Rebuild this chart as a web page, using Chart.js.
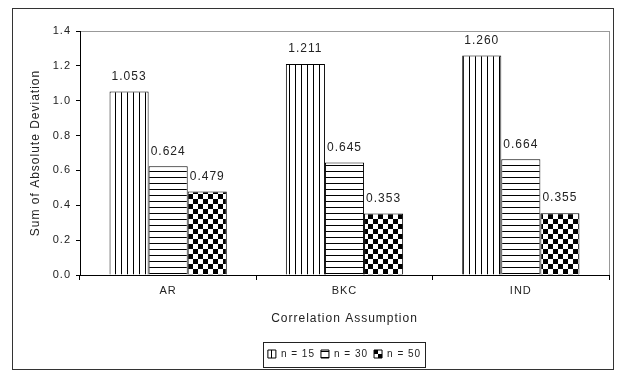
<!DOCTYPE html>
<html>
    <head>
        <meta charset="UTF-8" />
        <title>Sum of Absolute Deviation</title>
        <style type="text/css">
            body { margin: 0; background: #fff; }
            .chartBox {
                position: absolute;
                left: 12px;
                top: 8px;
                width: 600px;
                height: 360px;
                border: 1px solid #333;
            }
        </style>
    </head>
    <body>
        <div class="chartBox">
            <canvas id="myChart" width="600" height="360"></canvas>
        </div>

        <script src="https://cdn.jsdelivr.net/npm/chart.js"></script>
        <script>
            // data
            const categories = ['AR', 'BKC', 'IND'];
            const seriesLabels = ['n = 15', 'n = 30', 'n = 50'];
            const n15 = [1.053, 1.211, 1.260];
            const n30 = [0.624, 0.645, 0.664];
            const n50 = [0.479, 0.353, 0.355];

            Chart.defaults.font.family = "'Liberation Sans', Arial, sans-serif";
            Chart.defaults.font.size = 11;
            Chart.defaults.color = '#222';

            // hatch fills
            function makePattern(kind) {
                const c = document.createElement('canvas');
                const s = kind == 'checker' ? 10 : 6;
                c.width = s; c.height = s;
                const g = c.getContext('2d');
                g.fillStyle = '#fff';
                g.fillRect(0, 0, s, s);
                g.fillStyle = '#000';
                if (kind == 'vertical') g.fillRect(0, 0, 1, s);
                if (kind == 'horizontal') g.fillRect(0, 0, s, 1);
                if (kind == 'checker') {
                    g.fillRect(0, 0, 5, 5);
                    g.fillRect(5, 5, 5, 5);
                }
                return g.createPattern(c, 'repeat');
            }

            // the old excel font is spaced out a bit
            const spacing = {
                id: 'spacing',
                beforeUpdate(chart) { chart.ctx.letterSpacing = '1px'; },
                beforeLayout(chart) { chart.ctx.letterSpacing = '1px'; },
                beforeDraw(chart) { chart.ctx.letterSpacing = '1px'; }
            };

            const valueLabels = {
                id: 'valueLabels',
                afterDatasetsDraw(chart) {
                    const ctx = chart.ctx;
                    ctx.save();
                    ctx.letterSpacing = '1px';
                    ctx.font = "12px 'Liberation Sans', Arial, sans-serif";
                    ctx.fillStyle = '#222';
                    ctx.textAlign = 'center';
                    ctx.textBaseline = 'middle';
                    chart.data.datasets.forEach((ds, i) => {
                        chart.getDatasetMeta(i).data.forEach((bar, j) => {
                            ctx.fillText(ds.data[j].toFixed(3), bar.x, bar.y - 15);
                        });
                    });
                    ctx.restore();
                }
            };

            // box round the legend
            const legendFrame = {
                id: 'legendFrame',
                afterDraw(chart) {
                    const boxes = chart.legend.legendHitBoxes;
                    if (!boxes || !boxes.length) return;
                    const l = Math.min(...boxes.map(b => b.left)) - 5;
                    const r = Math.max(...boxes.map(b => b.left + b.width)) + 4;
                    const mid = boxes[0].top + boxes[0].height / 2;
                    const ctx = chart.ctx;
                    ctx.save();
                    ctx.strokeStyle = '#222';
                    ctx.lineWidth = 1;
                    ctx.strokeRect(Math.round(l) + 0.5, Math.round(mid - 12.5) + 0.5, Math.round(r - l), 25);
                    ctx.restore();
                }
            };

            const data = {
                labels: categories,
                datasets: [
                    { label: seriesLabels[0], data: n15, backgroundColor: makePattern('vertical') },
                    { label: seriesLabels[1], data: n30, backgroundColor: makePattern('horizontal') },
                    { label: seriesLabels[2], data: n50, backgroundColor: makePattern('checker') }
                ].map(d => Object.assign(d, {
                    borderColor: '#000',
                    borderWidth: 1,
                    categoryPercentage: 0.665,
                    barPercentage: 1.0
                }))
            };

            const config = {
                type: 'bar',
                data,
                plugins: [spacing, valueLabels, legendFrame],
                options: {
                    responsive: false,
                    animation: false,
                    layout: { padding: { top: 22, right: 4, left: 0, bottom: 0 } },
                    plugins: {
                        tooltip: { enabled: false },
                        legend: {
                            position: 'bottom',
                            fullSize: false,
                            labels: {
                                boxWidth: 8,
                                boxHeight: 8,
                                padding: 6,
                                color: '#222',
                                font: { size: 10 }
                            }
                        }
                    },
                    scales: {
                        x: {
                            offset: true,
                            grid: {
                                offset: true,
                                tickLength: 5,
                                tickColor: '#000',
                                // only the right edge of the plot gets a grey line
                                color: ctx => ctx.tick ? 'rgba(0,0,0,0)' : '#999'
                            },
                            border: { color: '#000' },
                            ticks: { padding: 4, color: '#222' },
                            title: {
                                display: true,
                                text: 'Correlation Assumption',
                                font: { size: 12 },
                                color: '#222',
                                padding: { top: 4, bottom: 17 }
                            },
                            afterFit(scale) { scale.height = 68; }
                        },
                        y: {
                            min: 0,
                            max: 1.4,
                            ticks: {
                                stepSize: 0.2,
                                padding: 5,
                                color: '#222',
                                callback: v => Number(v).toFixed(1)
                            },
                            grid: {
                                tickLength: 4,
                                tickColor: '#000',
                                color: ctx => (ctx.tick && Math.abs(ctx.tick.value - 1.4) < 1e-6) ? '#999' : 'rgba(0,0,0,0)'
                            },
                            border: { color: '#000' },
                            title: {
                                display: true,
                                text: 'Sum of Absolute Deviation',
                                font: { size: 12 },
                                color: '#222',
                                padding: { top: 15, bottom: 0 }
                            },
                            afterFit(scale) { scale.width = 67; }
                        }
                    }
                }
            };

            const myChart = new Chart(document.getElementById('myChart'), config);
        </script>
    </body>
</html>
